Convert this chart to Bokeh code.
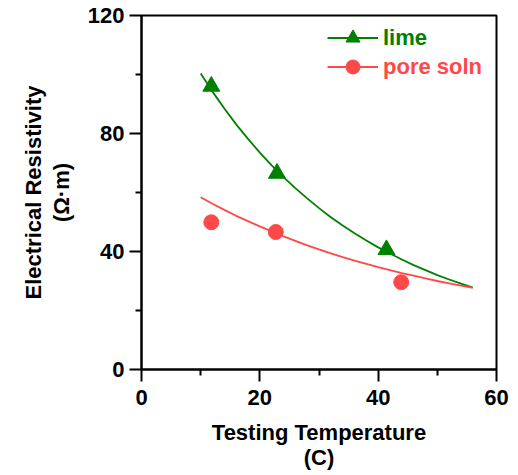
from bokeh.plotting import figure
from bokeh.models import Range1d, Legend, LegendItem, FixedTicker
from bokeh.embed import file_html
from bokeh.resources import INLINE

lime_x = [11.8, 22.9, 41.4]
lime_y = [96.0, 66.5, 40.6]
pore_x = [11.8, 22.7, 43.9]
pore_y = [49.9, 46.6, 29.6]

# Fitted trend curves
fit_x = [10, 12, 14, 16, 18, 20, 22, 24, 26, 28, 30, 32,
         34, 36, 38, 40, 42, 44, 46, 48, 50, 52, 54, 56]
lime_fit_y = [100.3, 94.2, 88.5, 83.1, 78.2, 73.5, 69.2, 65.2, 61.5, 58.0, 54.7, 51.6,
              48.8, 46.2, 43.7, 41.4, 39.3, 37.3, 35.4, 33.7, 32.0, 30.5, 29.1, 27.8]
pore_fit_y = [58.4, 56.2, 54.1, 52.1, 50.3, 48.5, 46.8, 45.1, 43.6, 42.1, 40.7, 39.4,
              38.1, 36.9, 35.8, 34.7, 33.7, 32.7, 31.8, 30.9, 30.0, 29.2, 28.4, 27.7]

x_ticks = [0, 20, 40, 60]
x_minor = [10, 30, 50]
y_ticks = [0, 40, 80, 120]
y_minor = [20, 60, 100]

GREEN = "#008000"
RED = "#FF4848"
FONT = "Liberation Sans"

p = figure(width=510, height=472, output_backend="svg", toolbar_location=None,
           x_range=Range1d(0, 60), y_range=Range1d(0, 120),
           min_border_left=141, min_border_right=14, min_border_top=15, min_border_bottom=102)

p.xgrid.visible = False
p.ygrid.visible = False
p.outline_line_color = "black"
p.outline_line_width = 2
p.outline_line_alpha = 1

for ax, ticks, minor in ((p.xaxis[0], x_ticks, x_minor), (p.yaxis[0], y_ticks, y_minor)):
    ax.ticker = FixedTicker(ticks=ticks, minor_ticks=minor)
    ax.axis_line_width = 2
    ax.major_tick_line_width = 2
    ax.minor_tick_line_width = 2
    ax.major_tick_out = 12
    ax.major_tick_in = 0
    ax.minor_tick_out = 6
    ax.minor_tick_in = 0
    ax.major_label_text_font = FONT
    ax.major_label_text_font_style = "bold"
    ax.major_label_text_font_size = "22px"
    ax.major_label_text_color = "black"
    ax.axis_label_text_font = FONT
    ax.axis_label_text_font_style = "bold"
    ax.axis_label_text_font_size = "22px"
    ax.axis_label_text_color = "black"

p.xaxis.axis_label_text_line_height = 1.0
p.yaxis.axis_label_text_line_height = 1.1
p.xaxis.axis_label = "Testing Temperature\n(C)"
p.yaxis.axis_label = "Electrical Resistivity\n(Ω·m)"
p.xaxis.major_label_standoff = 8
p.yaxis.major_label_standoff = 5
p.xaxis.axis_label_standoff = 12
p.yaxis.axis_label_standoff = 11

lf = p.line(fit_x, lime_fit_y, line_color=GREEN, line_width=1.8)
pf = p.line(fit_x, pore_fit_y, line_color=RED, line_width=1.8)
ls = p.scatter(lime_x, lime_y, marker="triangle", size=17, fill_color=GREEN, line_color=GREEN)
ps = p.scatter(pore_x, pore_y, marker="circle", size=15, fill_color=RED, line_color=RED)

def make_legend(label, rends, color, loc):
    lg = Legend(items=[LegendItem(label=label, renderers=rends)], location=loc,
                padding=0, margin=0, spacing=0, border_line_color=None,
                background_fill_alpha=0, glyph_width=51, glyph_height=35,
                label_height=35, label_standoff=5,
                label_text_font=FONT, label_text_font_style="bold",
                label_text_font_size="22px", label_text_color=color)
    p.add_layout(lg, "center")
    return lg

make_legend("lime", [lf, ls], GREEN, (186, 314))
make_legend("pore soln", [pf, ps], RED, (186, 285))

open("out.html", "w").write(file_html(p, INLINE))
